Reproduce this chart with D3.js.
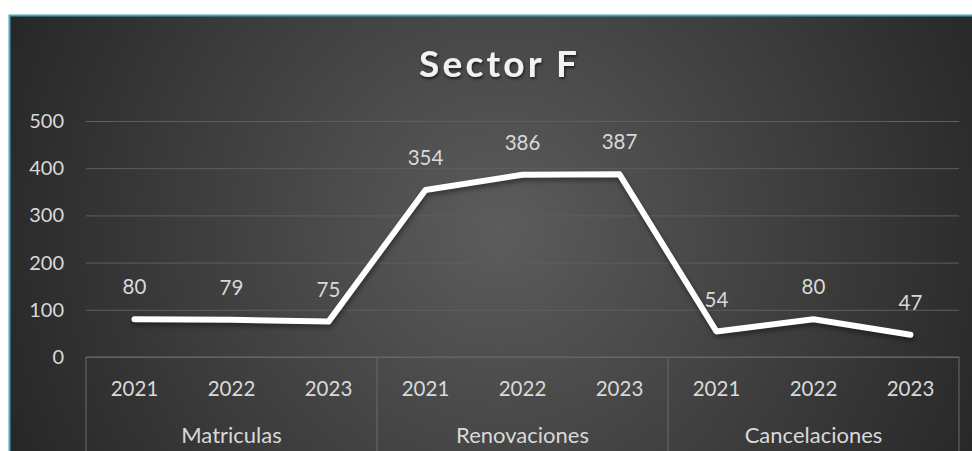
<!DOCTYPE html>
<html>
<head>
<meta charset="utf-8">
<script src="https://cdn.jsdelivr.net/npm/d3@7"></script>
<style>
  body { margin: 0; background: #fff; }
  text { font-family: Lato, "Open Sans", sans-serif; }
</style>
</head>
<body>
<div id="chart"></div>
<script>
// data
const groups = ["Matriculas", "Renovaciones", "Cancelaciones"];
const years = ["2021", "2022", "2023"];
const values = [80, 79, 75, 354, 386, 387, 54, 80, 47];
const yTicks = [0, 100, 200, 300, 400, 500];

const width = 972, height = 451;
const margin = ({top: 121, right: 13, bottom: 94, left: 86});
const visWidth = width - margin.left - margin.right;
const visHeight = height - margin.top - margin.bottom;

const cats = groups.flatMap(g => years.map(y => g + "|" + y));
const data = cats.map((c, i) => ({key: c, group: c.split("|")[0], year: c.split("|")[1], value: values[i]}));

const x = d3.scaleBand().domain(cats).range([0, visWidth]);
const xg = d3.scaleBand().domain(groups).range([0, visWidth]);
const y = d3.scaleLinear().domain([0, 500]).range([visHeight, 0]);

const svg = d3.select("#chart").append("svg")
  .attr("width", width)
  .attr("height", height);

const defs = svg.append("defs");
const grad = defs.append("radialGradient")
  .attr("id", "bg")
  .attr("gradientUnits", "userSpaceOnUse")
  .attr("cx", 500).attr("cy", 230).attr("r", 560);
grad.append("stop").attr("offset", "0%").attr("stop-color", "#5c5c5c");
grad.append("stop").attr("offset", "100%").attr("stop-color", "#242424");

const shadow = defs.append("filter").attr("id", "ts")
  .attr("x", "-10%").attr("y", "-20%").attr("width", "130%").attr("height", "150%");
shadow.append("feDropShadow")
  .attr("dx", 1).attr("dy", 2).attr("stdDeviation", 1.5)
  .attr("flood-color", "#000").attr("flood-opacity", 0.6);

// chart area with its teal border
svg.append("rect")
  .attr("x", 9.5).attr("y", 15.5)
  .attr("width", 990).attr("height", 460)
  .attr("fill", "url(#bg)")
  .attr("stroke", "#4aa3c0")
  .attr("stroke-width", 2);

svg.append("text")
  .attr("x", 498).attr("y", 77)
  .attr("text-anchor", "middle")
  .attr("fill", "#f2f2f2")
  .attr("font-size", 37)
  .attr("font-weight", "bold")
  .attr("textLength", 158)
  .attr("filter", "url(#ts)")
  .text("Sector F");

const g = svg.append("g")
  .attr("transform", `translate(${margin.left}, ${margin.top})`);

// y axis with gridlines
g.append("g")
  .call(d3.axisLeft(y).tickValues(yTicks).tickSize(-visWidth).tickPadding(22))
  .call(g => g.select(".domain").remove())
  .call(g => g.selectAll(".tick line").attr("stroke", "#5e5e5e").attr("stroke-width", 1))
  .call(g => g.selectAll(".tick text")
    .attr("fill", "#d9d9d9")
    .attr("font-size", 20));

// x axis: baseline, group separators, year labels, group labels
const xa = g.append("g").attr("transform", `translate(0,${visHeight})`);
xa.append("line")
  .attr("x1", 0).attr("x2", visWidth)
  .attr("stroke", "#6a6a6a");
xa.selectAll(".sep")
  .data([...groups.map(d => xg(d)), visWidth])
  .join("line")
  .attr("class", "sep")
  .attr("x1", d => d).attr("x2", d => d)
  .attr("y1", 0).attr("y2", 120)
  .attr("stroke", "#6a6a6a");
xa.selectAll(".yr")
  .data(data)
  .join("text")
  .attr("class", "yr")
  .attr("x", d => x(d.key) + x.bandwidth() / 2)
  .attr("y", 39)
  .attr("text-anchor", "middle")
  .attr("fill", "#d9d9d9")
  .attr("font-size", 20.5)
  .text(d => d.year);
xa.selectAll(".grp")
  .data(groups)
  .join("text")
  .attr("class", "grp")
  .attr("x", d => xg(d) + xg.bandwidth() / 2)
  .attr("y", 86)
  .attr("text-anchor", "middle")
  .attr("fill", "#d9d9d9")
  .attr("font-size", 22)
  .text(d => d);

// the line
const line = d3.line()
  .x(d => x(d.key) + x.bandwidth() / 2)
  .y(d => y(d.value));

g.append("path")
  .attr("d", line(data))
  .attr("fill", "none")
  .attr("stroke", "#000")
  .attr("stroke-opacity", 0.35)
  .attr("stroke-width", 7)
  .attr("stroke-linejoin", "round")
  .attr("stroke-linecap", "round")
  .attr("transform", "translate(1,3)")
  .style("filter", "blur(2px)");

g.append("path")
  .attr("d", line(data))
  .attr("fill", "none")
  .attr("stroke", "#ffffff")
  .attr("stroke-width", 6)
  .attr("stroke-linejoin", "round")
  .attr("stroke-linecap", "round");

// value labels
g.selectAll(".lbl")
  .data(data)
  .join("text")
  .attr("class", "lbl")
  .attr("x", d => x(d.key) + x.bandwidth() / 2)
  .attr("y", d => y(d.value) - 25)
  .attr("text-anchor", "middle")
  .attr("fill", "#d9d9d9")
  .attr("font-size", 20.5)
  .text(d => d.value);
</script>
</body>
</html>
